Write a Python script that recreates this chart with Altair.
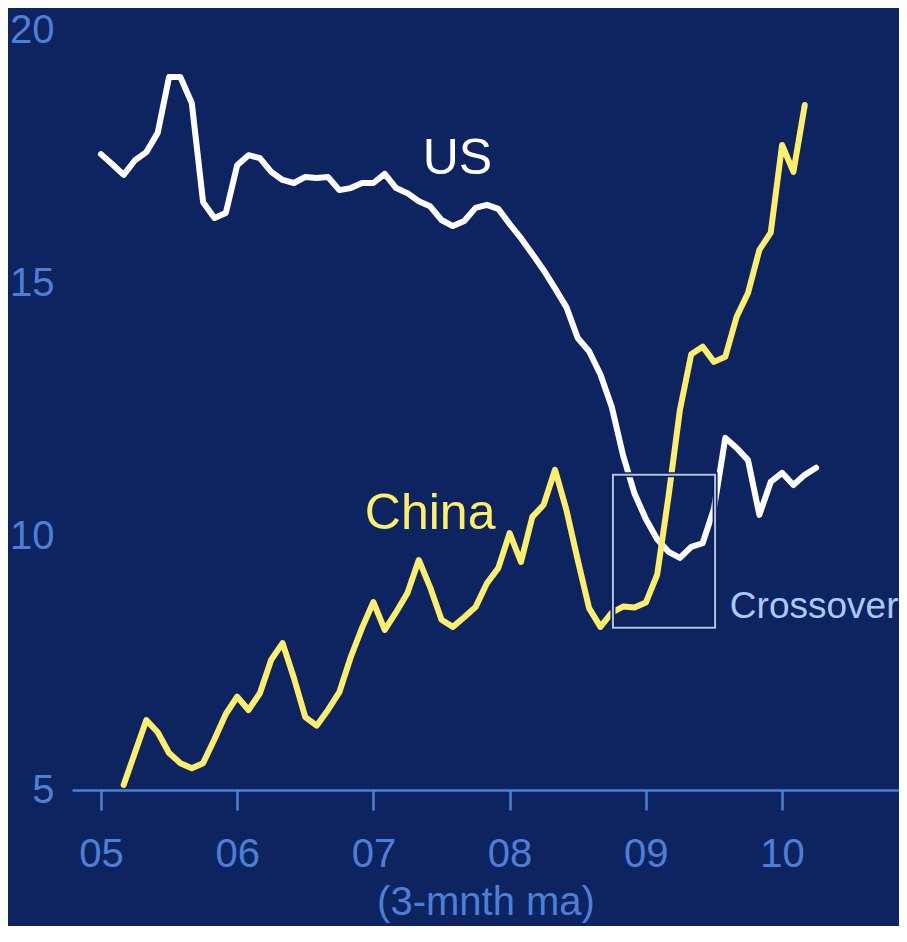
import json
import altair as alt
import pandas as pd

# ---- data (months since Jan 2005, 3-month moving average values) ----
us_months = list(range(0, 64))
us_values = [17.55, 17.35, 17.14, 17.43, 17.59, 17.97, 19.07, 19.07, 18.56, 16.60,
             16.29, 16.39, 17.33, 17.53, 17.47, 17.20, 17.04, 16.98, 17.10, 17.08,
             17.10, 16.84, 16.88, 16.98, 16.98, 17.16, 16.88, 16.78, 16.62, 16.52,
             16.25, 16.13, 16.23, 16.49, 16.55, 16.47, 16.17, 15.89, 15.58, 15.26,
             14.90, 14.53, 13.92, 13.66, 13.20, 12.56, 11.60, 10.85, 10.35, 9.95,
             9.70, 9.58, 9.80, 9.87, 10.55, 11.95, 11.75, 11.51, 10.43, 11.08,
             11.26, 11.02, 11.22, 11.36]

china_months = list(range(2, 63))
china_values = [5.10, 5.74, 6.38, 6.14, 5.73, 5.53, 5.43, 5.53, 6.00, 6.50,
                6.84, 6.58, 6.91, 7.57, 7.90, 7.21, 6.44, 6.27, 6.58, 6.93,
                7.62, 8.20, 8.71, 8.16, 8.51, 8.89, 9.54, 9.00, 8.36, 8.22,
                8.41, 8.61, 9.08, 9.38, 10.07, 9.50, 10.39, 10.63, 11.32, 10.53,
                9.54, 8.59, 8.22, 8.50, 8.62, 8.60, 8.70, 9.25, 10.80, 12.50,
                13.60, 13.75, 13.45, 13.55, 14.34, 14.81, 15.66, 16.00, 17.73, 17.20,
                18.52]

tick_months = [0, 12, 24, 36, 48, 60]
tick_labels = ["05", "06", "07", "08", "09", "10"]
y_ticks = [5, 10, 15, 20]

# crossover box (month range, value range)
box = pd.DataFrame({"m0": [45.1], "m1": [54.1], "v0": [8.2], "v1": [11.22]})

# annotations
ann_labels = ["US", "China", "Crossover"]
ann_m = [31.4, 29.0, 55.4]
ann_v = [17.45, 10.45, 8.62]
ann = pd.DataFrame({"label": ann_labels, "m": ann_m, "v": ann_v})

FONT = "'Liberation Sans', Arial, sans-serif"
AXIS_BLUE = "#4d7fd6"
BG = "#0d2461"
YELLOW = "#fdee6c"

us = pd.DataFrame({"m": us_months, "v": us_values})
cn = pd.DataFrame({"m": china_months, "v": china_values})

xscale = alt.Scale(domain=[-2.55, 70.3], nice=False, zero=False)
yscale = alt.Scale(domain=[5, 20], nice=False, zero=False)

label_expr = json.dumps(tick_labels) + "[datum.value / 12]"

x_axis = alt.Axis(
    values=tick_months, labelExpr=label_expr, title="(3-mnth ma)",
    grid=False, domainColor=AXIS_BLUE, domainWidth=2.5, tickColor=AXIS_BLUE,
    tickWidth=2.5, tickSize=20, labelColor=AXIS_BLUE, labelFontSize=40,
    labelFont=FONT, labelPadding=24, titleColor=AXIS_BLUE, titleFontSize=40,
    titleFont=FONT, titleFontWeight="normal", titlePadding=8,
)
y_axis = alt.Axis(
    values=y_ticks, title=None, grid=False, domain=False, ticks=False,
    labelColor=AXIS_BLUE, labelFontSize=40, labelFont=FONT, labelPadding=18,
)

line_us = alt.Chart(us).mark_line(
    color="white", strokeWidth=6, strokeJoin="round", strokeCap="round"
).encode(
    x=alt.X("m:Q", scale=xscale, axis=x_axis),
    y=alt.Y("v:Q", scale=yscale, axis=y_axis),
)

line_cn = alt.Chart(cn).mark_line(
    color=YELLOW, strokeWidth=6, strokeJoin="round", strokeCap="round"
).encode(
    x=alt.X("m:Q", scale=xscale),
    y=alt.Y("v:Q", scale=yscale),
)

box_outer = alt.Chart(box).mark_rect(
    filled=False, stroke="#151c4a", strokeWidth=5
).encode(
    x=alt.X("m0:Q", scale=xscale), x2="m1:Q",
    y=alt.Y("v0:Q", scale=yscale), y2="v1:Q",
)
box_inner = alt.Chart(box).mark_rect(
    filled=False, stroke="#a6c6f2", strokeWidth=2
).encode(
    x=alt.X("m0:Q", scale=xscale), x2="m1:Q",
    y=alt.Y("v0:Q", scale=yscale), y2="v1:Q",
)

ann_us = alt.Chart(ann[ann.label == "US"]).mark_text(
    font=FONT, fontSize=50, color="white", align="center", baseline="middle"
).encode(x=alt.X("m:Q", scale=xscale), y=alt.Y("v:Q", scale=yscale), text="label:N")

ann_cn = alt.Chart(ann[ann.label == "China"]).mark_text(
    font=FONT, fontSize=50, color=YELLOW, align="center", baseline="middle"
).encode(x=alt.X("m:Q", scale=xscale), y=alt.Y("v:Q", scale=yscale), text="label:N")

ann_x = alt.Chart(ann[ann.label == "Crossover"]).mark_text(
    font=FONT, fontSize=37, color="#a9cbf7", align="left", baseline="middle"
).encode(x=alt.X("m:Q", scale=xscale), y=alt.Y("v:Q", scale=yscale), text="label:N")

chart = alt.layer(
    line_us, line_cn, box_outer, box_inner, ann_us, ann_cn, ann_x
).properties(
    width=827, height=760,
    autosize=alt.AutoSizeParams(type="none"),
    padding={"left": 64, "top": 22, "right": 0, "bottom": 136},
    background=BG,
).configure(
    font=FONT,
    view=alt.ViewConfig(strokeWidth=0, stroke="transparent"),
)

chart.save("out.html", embed_options={"renderer": "svg", "actions": False})
